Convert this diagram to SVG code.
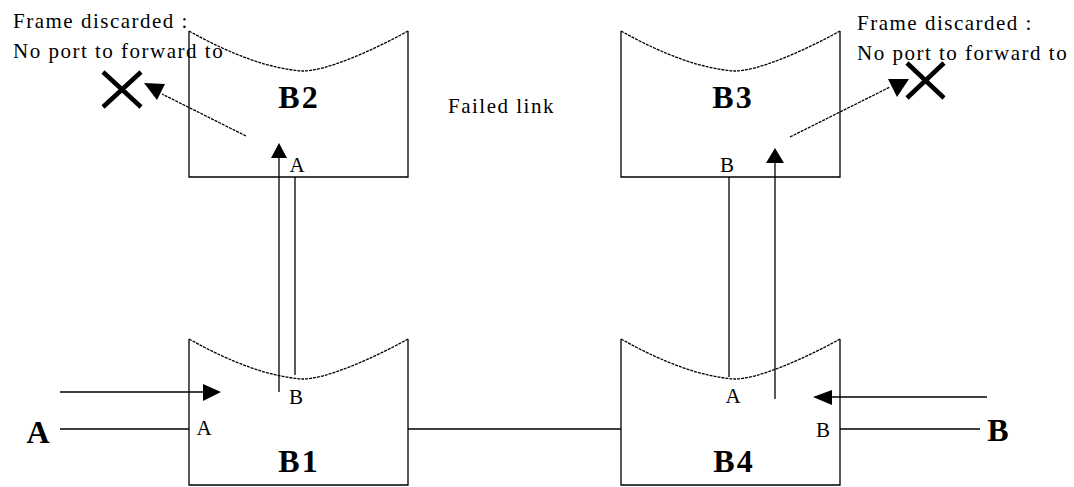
<svg xmlns="http://www.w3.org/2000/svg" width="1074" height="487" viewBox="0 0 1074 487">
<style>
.box{fill:none;stroke:#000;stroke-width:1.3}
.top{fill:none;stroke:#000;stroke-width:1.3;stroke-dasharray:3,1}
.ln{fill:none;stroke:#000;stroke-width:1.3}
.dl{fill:none;stroke:#000;stroke-width:1.3;stroke-dasharray:3,1}
.ah{fill:#000;stroke:none}
.x{stroke:#000;stroke-width:4.5;fill:none}
.big{font-family:"Liberation Serif",serif;font-weight:bold;font-size:32px;fill:#000;text-anchor:middle;letter-spacing:2px}
.sm{font-family:"Liberation Serif",serif;font-size:21px;fill:#000;text-anchor:middle}
.txt{font-family:"Liberation Serif",serif;font-size:21px;fill:#000;letter-spacing:1.5px}
</style>
<defs>
<g id="bridge">
<path class="box" d="M189,31 V177 H408 V31"/>
<path class="top" d="M189,31 Q255,68 303,71 C325,71 370,52 408,31"/>
</g>
</defs>
<g id="B2">
<use href="#bridge"/>
<text class="big" x="299" y="108">B2</text>
<text class="sm" x="297" y="172">A</text>
</g>
<g id="B3">
<use href="#bridge" transform="translate(432,0)"/>
<text class="big" x="733" y="108">B3</text>
<text class="sm" x="727" y="172">B</text>
</g>
<g id="B1">
<use href="#bridge" transform="translate(0,308)"/>
<text class="big" x="299" y="472">B1</text>
<text class="sm" x="296" y="404">B</text>
<text class="sm" x="204" y="435">A</text>
</g>
<g id="B4">
<use href="#bridge" transform="translate(432,308)"/>
<text class="big" x="734" y="472">B4</text>
<text class="sm" x="733" y="403">A</text>
<text class="sm" x="823" y="437">B</text>
</g>
<g id="endA">
<text class="big" x="38" y="443" style="letter-spacing:0">A</text>
</g>
<g id="endB">
<text class="big" x="998" y="441" style="letter-spacing:0">B</text>
</g>
<g id="discard-left">
<text class="txt" x="13" y="28">Frame discarded :</text>
<text class="txt" x="13" y="58">No port to forward to</text>
<path class="x" d="M103,72 L141,107 M141,72 L103,107"/>
</g>
<g id="discard-right">
<text class="txt" x="857" y="30">Frame discarded :</text>
<text class="txt" x="857" y="60">No port to forward to</text>
<path class="x" d="M907,63 L944,98 M944,63 L907,98"/>
</g>
<g id="failed-link-label">
<text class="txt" x="448" y="113">Failed link</text>
</g>
<g id="connectors">
<line class="ln" x1="279" y1="157" x2="279" y2="392"/>
<polygon class="ah" points="279,143 271,158 287,158"/>
<line class="ln" x1="295" y1="177" x2="295" y2="375"/>
<line class="ln" x1="729" y1="177" x2="729" y2="377"/>
<line class="ln" x1="775" y1="162" x2="775" y2="399"/>
<polygon class="ah" points="775,148 766,163 784,163"/>
<line class="ln" x1="60" y1="392" x2="204" y2="392"/>
<polygon class="ah" points="221,392 203,384 203,401"/>
<line class="ln" x1="60" y1="429" x2="189" y2="429"/>
<line class="ln" x1="408" y1="429" x2="621" y2="429"/>
<line class="ln" x1="831" y1="397" x2="987" y2="397"/>
<polygon class="ah" points="813,397 832,390 832,405"/>
<line class="ln" x1="840" y1="429" x2="980" y2="429"/>
<line class="dl" x1="246" y1="136" x2="162" y2="94"/>
<polygon class="ah" points="144,83 165,84 157,100"/>
<line class="dl" x1="790" y1="137" x2="890" y2="87"/>
<polygon class="ah" points="888,79 909,79 897,97"/>
</g>
</svg>
